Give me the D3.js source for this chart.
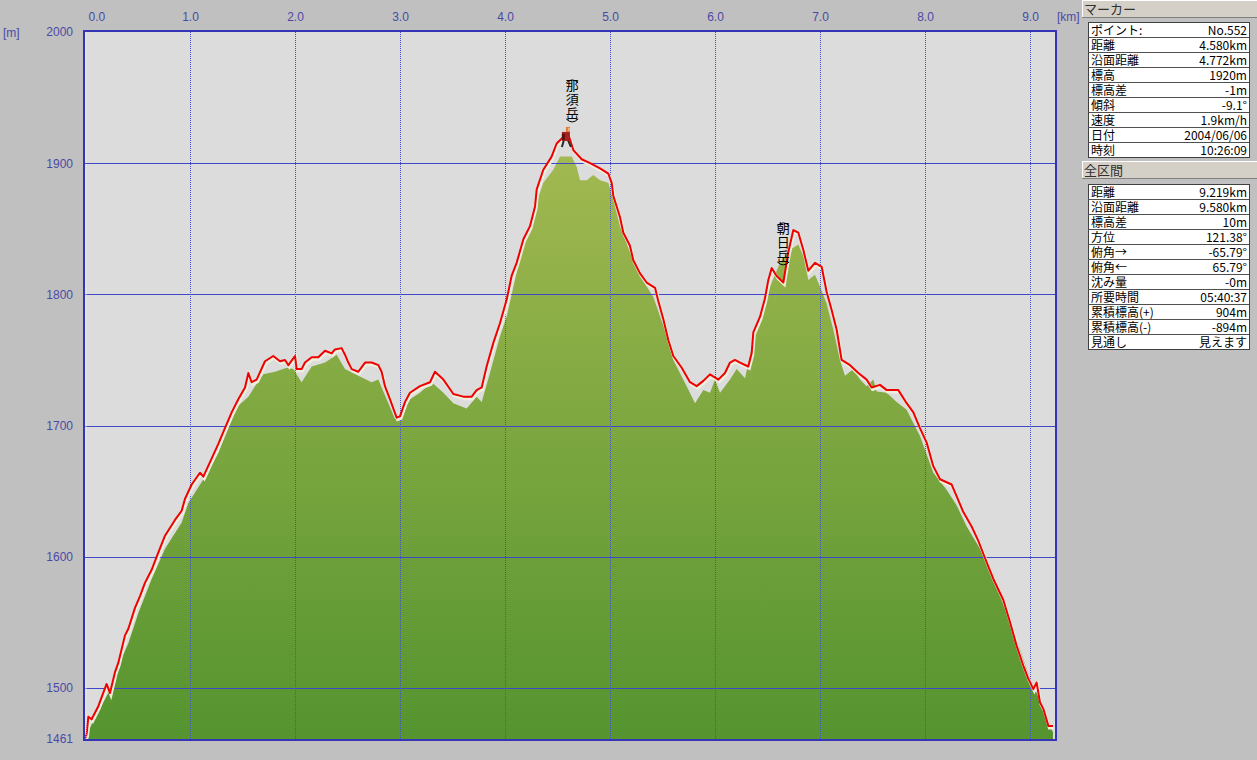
<!DOCTYPE html>
<html><head><meta charset="utf-8">
<script src="https://cdn.jsdelivr.net/npm/d3@7"></script>
<style>
html,body{margin:0;padding:0;background:#c0c0c0;}
svg{display:block;}
</style></head>
<body>
<svg id="chart" width="1257" height="760"></svg>
<script>
// GPS track (red line): distance [km], elevation [m]
const trackKm = [0.000,0.016,0.032,0.063,0.127,0.206,0.238,0.286,0.317,0.381,
0.413,0.476,0.524,0.571,0.635,0.683,0.762,0.857,0.921,0.952,
1.016,1.095,1.127,1.207,1.270,1.333,1.397,1.460,1.524,1.556,
1.587,1.635,1.714,1.793,1.857,1.905,1.937,2.000,2.016,2.063,
2.095,2.159,2.222,2.286,2.349,2.381,2.444,2.476,2.508,2.540,
2.603,2.667,2.730,2.794,2.825,2.857,2.905,2.968,3.000,3.048,
3.095,3.190,3.286,3.333,3.413,3.508,3.603,3.683,3.730,3.778,
3.825,3.889,3.952,4.016,4.063,4.111,4.175,4.238,4.286,4.302,
4.365,4.444,4.492,4.556,4.603,4.651,4.730,4.810,4.905,4.984,
5.016,5.032,5.095,5.127,5.190,5.222,5.286,5.349,5.429,5.460,
5.508,5.556,5.603,5.683,5.762,5.825,5.889,5.952,6.032,6.095,
6.143,6.190,6.238,6.317,6.349,6.365,6.429,6.476,6.508,6.540,
6.587,6.651,6.698,6.746,6.794,6.841,6.889,6.952,7.016,7.063,
7.111,7.159,7.206,7.286,7.365,7.444,7.492,7.571,7.635,7.746,
7.825,7.889,7.952,8.016,8.079,8.143,8.254,8.302,8.365,8.444,
8.508,8.571,8.651,8.746,8.810,8.873,8.936,8.984,9.032,9.063,
9.095,9.127,9.175,9.219];
const trackElev = [1461,1465,1478,1476,1486,1503,1496,1512,1519,1540,
1545,1561,1570,1580,1590,1600,1616,1628,1635,1644,
1655,1664,1661,1675,1686,1698,1710,1720,1729,1740,
1733,1735,1749,1753,1749,1750,1746,1753,1743,1743,
1748,1752,1752,1757,1755,1758,1759,1754,1748,1743,
1741,1748,1748,1746,1741,1730,1720,1706,1707,1718,
1725,1730,1733,1741,1735,1724,1722,1722,1727,1729,
1745,1763,1778,1796,1814,1824,1842,1852,1867,1880,
1895,1905,1915,1920,1922,1910,1903,1900,1896,1892,
1885,1875,1859,1847,1837,1826,1816,1809,1805,1795,
1781,1765,1753,1744,1733,1730,1734,1739,1735,1740,
1748,1750,1748,1745,1755,1771,1783,1797,1811,1820,
1814,1809,1832,1849,1847,1834,1818,1824,1821,1802,
1788,1773,1750,1746,1740,1735,1729,1731,1727,1727,
1717,1710,1698,1687,1669,1659,1655,1646,1634,1623,
1612,1599,1583,1567,1550,1532,1517,1507,1499,1504,
1489,1484,1471,1471];

// Terrain (map) elevation (green area)
const terrainKm = [0,0.063,0.254,0.317,0.413,0.508,0.635,0.762,0.921,0.984,
1.048,1.143,1.270,1.365,1.460,1.556,1.619,1.698,1.810,1.921,
1.984,2.063,2.159,2.286,2.397,2.476,2.603,2.730,2.794,2.825,
2.889,2.952,3.000,3.095,3.190,3.302,3.413,3.508,3.635,3.730,
3.778,3.857,3.952,4.016,4.095,4.190,4.238,4.302,4.365,4.460,
4.524,4.635,4.683,4.714,4.778,4.841,4.905,4.984,5.032,5.095,
5.190,5.286,5.413,5.508,5.603,5.730,5.810,5.889,5.952,6.000,
6.048,6.143,6.206,6.286,6.365,6.460,6.540,6.619,6.714,6.794,
6.841,6.889,6.952,7.000,7.063,7.127,7.190,7.238,7.317,7.381,
7.444,7.508,7.540,7.635,7.730,7.825,7.952,8.079,8.206,8.302,
8.397,8.524,8.651,8.778,8.905,9.000,9.063,9.127,9.219];
const terrainElev = [1461,1472,1501,1517,1534,1557,1583,1606,1626,1641,
1649,1661,1679,1699,1715,1722,1730,1739,1741,1744,
1743,1733,1745,1748,1754,1743,1738,1733,1735,1729,
1717,1705,1705,1720,1725,1733,1725,1717,1713,1722,
1718,1740,1768,1783,1811,1844,1847,1870,1885,1895,
1905,1905,1897,1887,1887,1891,1887,1885,1872,1852,
1832,1814,1798,1776,1750,1730,1717,1727,1725,1735,
1725,1735,1743,1736,1765,1791,1809,1824,1834,1838,
1829,1811,1815,1806,1793,1773,1750,1738,1743,1735,
1730,1735,1726,1725,1718,1712,1692,1664,1651,1639,
1623,1606,1583,1557,1529,1507,1496,1484,1466];

const xTicks = [0,1,2,3,4,5,6,7,8,9];
const yTicks = [1461,1500,1600,1700,1800,1900,2000];
const yGrid = [1500,1600,1700,1800,1900];

const peakNames = ["那須岳","朝日岳"];
const peakKm = [4.64, 6.65];
const peakLabelTop = [1965, 1856];

const markerKm = 4.580, markerElev = 1920;

const markerLabels = ["ポイント:","距離","沿面距離","標高","標高差","傾斜","速度","日付","時刻"];
const markerValues = ["No.552","4.580km","4.772km","1920m","-1m","-9.1°","1.9km/h","2004/06/06","10:26:09"];
const totalLabels = ["距離","沿面距離","標高差","方位","俯角→","俯角←","沈み量","所要時間","累積標高(+)","累積標高(-)","見通し"];
const totalValues = ["9.219km","9.580km","10m","121.38°","-65.79°","65.79°","-0m","05:40:37","904m","-894m","見えます"];

const svg = d3.select("#chart");
const L = 85, R = 1055, T = 32, B = 739;
const x = d3.scaleLinear().domain([0, 970/105]).range([L, R]);
const y = d3.scaleLinear().domain([1461, 2000]).range([B, T]);

const defs = svg.append("defs");
const grad = defs.append("linearGradient").attr("id","g").attr("gradientUnits","userSpaceOnUse")
  .attr("x1",0).attr("x2",0).attr("y1",y(1910)).attr("y2",B);
grad.append("stop").attr("offset",0).attr("stop-color","#a3b951");
grad.append("stop").attr("offset",0.5).attr("stop-color","#7ba63f");
grad.append("stop").attr("offset",1).attr("stop-color","#55942f");
defs.append("clipPath").attr("id","clip").append("rect").attr("x",L).attr("y",T).attr("width",R-L).attr("height",B-T);

// plot background
svg.append("rect").attr("x",L).attr("y",T).attr("width",R-L).attr("height",B-T).attr("fill","#dcdcdc");

const plot = svg.append("g").attr("clip-path","url(#clip)");
const terrain = terrainKm.map((k,i)=>[k, terrainElev[i]]);
const track = trackKm.map((k,i)=>[k, trackElev[i]]);

plot.append("path").datum(terrain)
  .attr("d", d3.area().x(d=>x(d[0])).y0(B).y1(d=>y(d[1])))
  .attr("fill","url(#g)");

// grid
plot.selectAll("line.hg").data(yGrid).join("line").attr("class","hg")
  .attr("x1",L).attr("x2",R).attr("y1",d=>Math.round(y(d))+0.5).attr("y2",d=>Math.round(y(d))+0.5)
  .attr("stroke","#3f48c8").attr("stroke-width",1);
plot.selectAll("line.vg").data(xTicks.filter(d=>d>0)).join("line").attr("class","vg")
  .attr("x1",d=>Math.round(x(d))+0.5).attr("x2",d=>Math.round(x(d))+0.5).attr("y1",T).attr("y2",B)
  .attr("stroke","#4650d0").attr("stroke-width",1).attr("stroke-dasharray","1,1");

// track line with light halo
const line = d3.line().x(d=>x(d[0])).y(d=>y(d[1]));
plot.append("path").datum(track).attr("d",line).attr("fill","none")
  .attr("stroke","#eeeedd").attr("stroke-width",3).attr("transform","translate(1,2)");
plot.append("path").datum(track).attr("d",line).attr("fill","none")
  .attr("stroke","#f00000").attr("stroke-width",2).attr("stroke-linejoin","round");

// border
svg.append("rect").attr("x",L-1).attr("y",T-1).attr("width",R-L+2).attr("height",B-T+2)
  .attr("fill","none").attr("stroke","#3434b4").attr("stroke-width",2);
svg.append("line").attr("x1",L+1).attr("x2",L+1).attr("y1",T).attr("y2",B)
  .attr("stroke","#ffffff").attr("stroke-dasharray","1,1").attr("stroke-width",1).attr("opacity",0.8);

// axes
const axisColor = "#4a4aa6";
const xa = svg.append("g").attr("transform",`translate(0,${T})`)
  .call(d3.axisTop(x).tickValues(xTicks).tickSize(0).tickPadding(11).tickFormat(d3.format(".1f")));
xa.select(".domain").remove();
xa.selectAll("text").attr("fill",axisColor).style("font","12px 'Liberation Sans', Arial, sans-serif");
xa.selectAll(".tick").filter(d=>d===0).select("text").attr("text-anchor","start").attr("x",3);

const ya = svg.append("g").attr("transform",`translate(${L},0)`)
  .call(d3.axisLeft(y).tickValues(yTicks).tickSize(0).tickPadding(12).tickFormat(d3.format("d")));
ya.select(".domain").remove();
ya.selectAll("text").attr("fill",axisColor).style("font","12px 'Liberation Sans', Arial, sans-serif");

svg.append("text").attr("x",3).attr("y",37).text("[m]").attr("fill",axisColor)
  .style("font","12px 'Liberation Sans', Arial, sans-serif");
svg.append("text").attr("x",1057).attr("y",21).text("[km]").attr("fill",axisColor)
  .style("font","12px 'Liberation Sans', Arial, sans-serif");

// peak labels (vertical text, parentheses drawn as arcs)
peakNames.forEach((nm,i)=>{
  const cx = x(peakKm[i]), top = y(peakLabelTop[i]);
  const g = svg.append("g");
  g.append("path").attr("d",`M${cx-6},${top+5} Q${cx},${top-1} ${cx+6},${top+5}`)
    .attr("fill","none").attr("stroke","#000").attr("stroke-width",1);
  g.append("text").attr("x",cx).attr("y",top+1)
    .style("writing-mode","vertical-rl").style("letter-spacing","1px")
    .style("font","13px 'Noto Sans CJK JP', sans-serif").attr("fill","#000").text(nm);
  const bot = top + 1 + 14*nm.length;
  g.append("path").attr("d",`M${cx-6},${bot-2} Q${cx},${bot+4} ${cx+6},${bot-2}`)
    .attr("fill","none").attr("stroke","#000").attr("stroke-width",1);
});

// marker (hiker icon)
{
  const mx = x(markerKm), my = y(markerElev);
  const g = svg.append("g").attr("transform",`translate(${mx},${my})`);
  g.append("path").attr("d","M-2,3 L-4,10 M2,3 L5,10").attr("stroke","#2a2a2a").attr("stroke-width",2);
  g.append("rect").attr("x",-4).attr("y",-5).attr("width",8).attr("height",9).attr("fill","#a82020");
  g.append("rect").attr("x",-4).attr("y",-3).attr("width",3).attr("height",6).attr("fill","#5a1010");
  g.append("rect").attr("x",0).attr("y",-10).attr("width",4).attr("height",5).attr("fill","#e47a3c");
  g.append("rect").attr("x",2).attr("y",-9).attr("width",2).attr("height",3).attr("fill","#f0b080");
}

// right panel
function header(yTop, label){
  const g = svg.append("g");
  g.append("rect").attr("x",1082).attr("y",yTop).attr("width",175).attr("height",18).attr("fill","#d4d0c8");
  g.append("line").attr("x1",1082).attr("x2",1257).attr("y1",yTop+0.5).attr("y2",yTop+0.5).attr("stroke","#ffffff");
  g.append("line").attr("x1",1082.5).attr("x2",1082.5).attr("y1",yTop).attr("y2",yTop+18).attr("stroke","#ffffff");
  g.append("line").attr("x1",1082).attr("x2",1257).attr("y1",yTop+17.5).attr("y2",yTop+17.5).attr("stroke","#808080");
  g.append("text").attr("x",1084).attr("y",yTop+14).text(label).attr("fill","#303030")
    .style("font","13px 'Noto Sans CJK JP', sans-serif");
}
function table(yTop, labels, values){
  const rowH = 15, w = 161, x0 = 1088;
  const g = svg.append("g");
  g.append("rect").attr("x",x0+0.5).attr("y",yTop+0.5).attr("width",w).attr("height",rowH*labels.length)
    .attr("fill","#ffffff").attr("stroke","#404040");
  g.selectAll("line.r").data(labels.slice(1)).join("line")
    .attr("x1",x0).attr("x2",x0+w).attr("y1",(d,i)=>yTop+rowH*(i+1)+0.5).attr("y2",(d,i)=>yTop+rowH*(i+1)+0.5)
    .attr("stroke","#505050");
  g.selectAll("text.l").data(labels).join("text")
    .attr("x",x0+3).attr("y",(d,i)=>yTop+rowH*i+12.5).text(d=>d).attr("fill","#000")
    .style("font","12px 'Noto Sans CJK JP', sans-serif");
  g.selectAll("text.v").data(values).join("text")
    .attr("x",x0+w-2).attr("y",(d,i)=>yTop+rowH*i+12.5).attr("text-anchor","end").text(d=>d).attr("fill","#000")
    .style("font","12px 'Noto Sans CJK JP', sans-serif");
}
header(0,"マーカー");
table(22, markerLabels, markerValues);
header(161,"全区間");
table(184, totalLabels, totalValues);
</script>
</body></html>
